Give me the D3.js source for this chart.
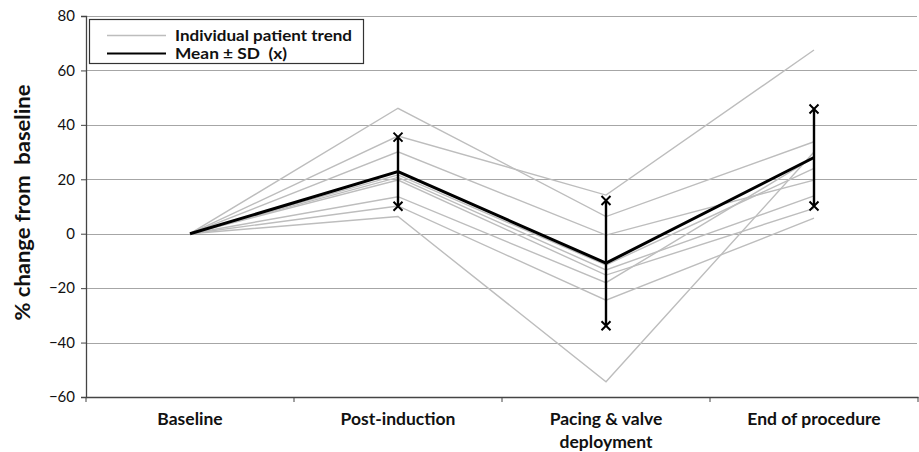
<!DOCTYPE html>
<html>
<head>
<meta charset="utf-8">
<script src="https://cdn.jsdelivr.net/npm/d3@7"></script>
<style>
  body { margin: 0; background: #fff; }
  text { font-family: Lato, "Open Sans", sans-serif; }
</style>
</head>
<body>
<script>
const categories = ["Baseline", "Post-induction", "Pacing & valve\ndeployment", "End of procedure"]
const yTicks = [-60, -40, -20, 0, 20, 40, 60, 80]

// individual patients, % change at each stage
const patient1 = [0, 46.1, 6.3, 33.8]
const patient2 = [0, 35.9, 14.2, 67.5]
const patient3 = [0, 30.1, -0.5, 19.7]
const patient4 = [0, 21.6, -11.5, 24]
const patient5 = [0, 20.7, -13.3, 13.9]
const patient6 = [0, 19.7, -15.2, 9.3]
const patient7 = [0, 13.6, -18, 28]
const patient8 = [0, 10.2, -24.4, 5.7]
const patient9 = [0, 6.3, -54.4, 30]
const patients = [patient1, patient2, patient3, patient4, patient5, patient6, patient7, patient8, patient9]

const meanValues = [0, 22.8, -10.8, 28]
const sdValues = [0, 12.7, 23, 17.8]

const w = 919
const h = 452
const margin = { left: 86, right: 1, top: 16, bottom: 55 }

const svg = d3.select("body")
  .append("svg")
  .attr("width", w)
  .attr("height", h)

const xScale = d3.scaleBand()
  .domain(categories)
  .range([margin.left, w - margin.right])

const yScale = d3.scaleLinear()
  .domain([-60, 80])
  .range([h - margin.bottom, margin.top])

const xc = (i) => xScale(categories[i]) + xScale.bandwidth() / 2

// gridlines
svg.append("g")
  .selectAll("line")
  .data(yTicks.filter(d => d > -60))
  .enter()
  .append("line")
  .attr("x1", margin.left)
  .attr("x2", w - margin.right - 1)
  .attr("y1", d => Math.round(yScale(d)) + 0.5)
  .attr("y2", d => Math.round(yScale(d)) + 0.5)
  .style("stroke", "#a6a6a6")
  .style("stroke-width", 1.2)

// y axis
const yAxis = d3.axisLeft(yScale)
  .tickValues(yTicks)
  .tickSize(5)
  .tickPadding(6)
svg.append("g")
  .attr("transform", "translate(" + margin.left + ",0)")
  .call(yAxis)
  .call(g => g.select(".domain").attr("stroke", "#444").attr("stroke-width", 1.3))
  .call(g => g.selectAll(".tick line").attr("stroke", "#444"))
  .call(g => g.selectAll(".tick text")
    .style("font-size", "15px")
    .style("fill", "#111")
    .style("font-family", "Lato, sans-serif"))

// x axis
const xAxis = d3.axisBottom(xScale)
  .tickSize(0)
  .tickFormat("")
const xg = svg.append("g")
  .attr("transform", "translate(0," + yScale(-60) + ")")
  .call(xAxis)
xg.select(".domain").attr("stroke", "#444").attr("stroke-width", 1.6)
xg.selectAll(".edge")
  .data(d3.range(categories.length + 1))
  .enter()
  .append("line")
  .attr("x1", i => margin.left + i * xScale.bandwidth())
  .attr("x2", i => margin.left + i * xScale.bandwidth())
  .attr("y1", 0)
  .attr("y2", 5)
  .attr("stroke", "#444")

categories.forEach((c, i) => {
  const t = svg.append("text")
    .attr("x", xc(i))
    .attr("y", yScale(-60) + 28)
    .attr("text-anchor", "middle")
    .style("font-size", "17.5px")
    .style("font-weight", "700")
    .style("fill", "#111")
  c.split("\n").forEach((line, j) => {
    t.append("tspan")
      .attr("x", xc(i))
      .attr("dy", j === 0 ? 0 : 23)
      .text(line)
  })
})

// y axis title
svg.append("text")
  .attr("transform", "translate(30," + ((yScale(80) + yScale(-60)) / 2 - 4) + ") rotate(-90)")
  .attr("text-anchor", "middle")
  .attr("textLength", 236)
  .attr("lengthAdjust", "spacingAndGlyphs")
  .style("font-size", "20px")
  .style("font-weight", "700")
  .style("fill", "#111")
  .style("white-space", "pre")
  .text("% change from  baseline")

// patient lines
const line = d3.line()
  .x((d, i) => xc(i))
  .y(d => yScale(d))

svg.append("g")
  .selectAll("path")
  .data(patients)
  .enter()
  .append("path")
  .attr("d", line)
  .style("fill", "none")
  .style("stroke", "#bdbdbd")
  .style("stroke-width", 1.4)

// error bars
const bars = svg.append("g")
meanValues.forEach((m, i) => {
  if (sdValues[i] === 0) return
  const x = xc(i)
  const top = yScale(m + sdValues[i])
  const bot = yScale(m - sdValues[i])
  bars.append("line")
    .attr("x1", x).attr("x2", x)
    .attr("y1", top).attr("y2", bot)
    .style("stroke", "#000")
    .style("stroke-width", 2.4)
  ;[top, bot].forEach(y => {
    const s = 4.5
    bars.append("path")
      .attr("d", `M${x - s},${y - s}L${x + s},${y + s}M${x - s},${y + s}L${x + s},${y - s}`)
      .style("stroke", "#000")
      .style("stroke-width", 2)
  })
})

// mean line
svg.append("path")
  .datum(meanValues)
  .attr("d", line)
  .style("fill", "none")
  .style("stroke", "#000")
  .style("stroke-width", 3)

// legend
const legend = svg.append("g")
legend.append("rect")
  .attr("x", 89.5)
  .attr("y", 19.5)
  .attr("width", 274)
  .attr("height", 44)
  .style("fill", "#fff")
  .style("stroke", "#333")
  .style("stroke-width", 1.2)
const legendItems = [
  { label: "Individual patient trend", color: "#bdbdbd", width: 1.6, len: 177 },
  { label: "Mean \u00b1 SD  (x)", color: "#000", width: 2, len: 112 }
]
legendItems.forEach((d, i) => {
  const y = 35.5 + i * 18
  legend.append("line")
    .attr("x1", 107).attr("x2", 166)
    .attr("y1", y).attr("y2", y)
    .style("stroke", d.color)
    .style("stroke-width", d.width)
  legend.append("text")
    .attr("x", 175)
    .attr("y", y + 5.5)
    .attr("textLength", d.len)
    .attr("lengthAdjust", "spacingAndGlyphs")
    .style("font-size", "15px")
    .style("font-weight", "700")
    .style("fill", "#111")
    .style("white-space", "pre")
    .text(d.label)
})
</script>
</body>
</html>
